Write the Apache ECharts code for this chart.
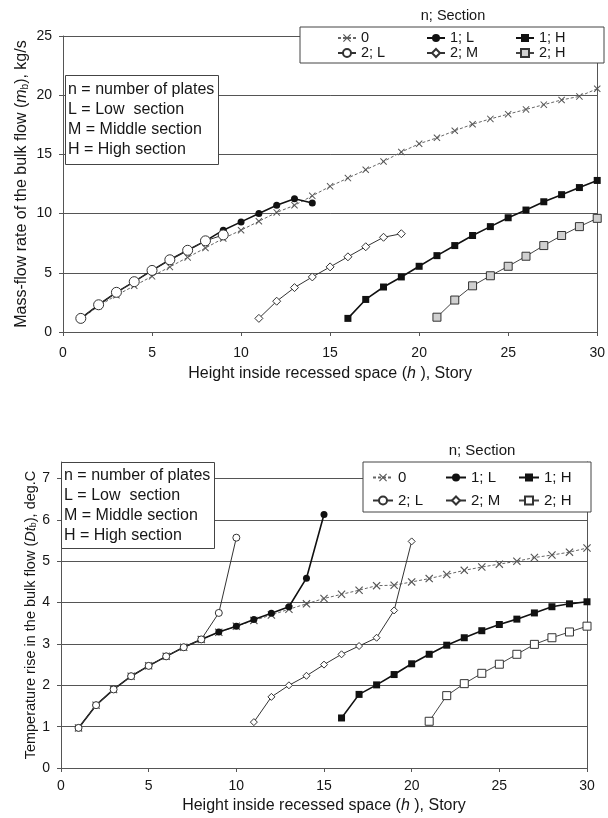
<!DOCTYPE html>
<html><head><meta charset="utf-8">
<script src="https://cdn.jsdelivr.net/npm/echarts@6/dist/echarts.min.js"></script>
<style>html,body{margin:0;padding:0;background:#fff}#c{width:608px;height:818px}</style>
</head><body><div id="c"></div>
<script>
const FONT = '"Liberation Sans", Arial, Helvetica, sans-serif';
const seriesLabels = ['0', '1; L', '1; H', '2; L', '2; M', '2; H'];
const xTicks = [0, 5, 10, 15, 20, 25, 30];
const topYTicks = [0, 5, 10, 15, 20, 25];
const botYTicks = [0, 1, 2, 3, 4, 5, 6, 7];
const infoText = 'n = number of plates\nL = Low  section\nM = Middle section\nH = High section';

// ---- Top chart: mass-flow rate (kg/s) ----
const topX_0  = [1,2,3,4,5,6,7,8,9,10,11,12,13,14,15,16,17,18,19,20,21,22,23,24,25,26,27,28,29,30];
const topY_0  = [1.1,2.2,3.1,3.9,4.7,5.5,6.3,7.1,7.9,8.6,9.35,10.1,10.7,11.5,12.3,13.0,13.7,14.4,15.2,15.9,16.4,17.0,17.55,18.0,18.4,18.8,19.2,19.6,19.9,20.55];
const topX_1L = [1,2,3,4,5,6,7,8,9,10,11,12,13,14];
const topY_1L = [1.15,2.3,3.35,4.25,5.2,6.1,6.9,7.7,8.6,9.3,10.0,10.7,11.25,10.9];
const topX_1H = [16,17,18,19,20,21,22,23,24,25,26,27,28,29,30];
const topY_1H = [1.15,2.75,3.8,4.65,5.55,6.45,7.3,8.15,8.9,9.65,10.3,11.0,11.6,12.2,12.8];
const topX_2L = [1,2,3,4,5,6,7,8,9];
const topY_2L = [1.15,2.3,3.35,4.25,5.2,6.1,6.9,7.7,8.2];
const topX_2M = [11,12,13,14,15,16,17,18,19];
const topY_2M = [1.15,2.6,3.75,4.65,5.5,6.35,7.2,8.0,8.3];
const topX_2H = [21,22,23,24,25,26,27,28,29,30];
const topY_2H = [1.25,2.7,3.9,4.75,5.55,6.4,7.3,8.15,8.9,9.6];

// ---- Bottom chart: temperature rise (deg.C) ----
const botX_0  = [1,2,3,4,5,6,7,8,9,10,11,12,13,14,15,16,17,18,19,20,21,22,23,24,25,26,27,28,29,30];
const botY_0  = [0.97,1.52,1.9,2.22,2.47,2.7,2.92,3.11,3.28,3.43,3.57,3.7,3.84,3.97,4.1,4.2,4.3,4.41,4.42,4.5,4.58,4.68,4.78,4.86,4.93,5.0,5.09,5.15,5.22,5.32];
const botX_1L = [1,2,3,4,5,6,7,8,9,10,11,12,13,14,15];
const botY_1L = [0.97,1.52,1.9,2.22,2.47,2.7,2.92,3.11,3.29,3.43,3.59,3.74,3.9,4.59,6.13];
const botX_1H = [16,17,18,19,20,21,22,23,24,25,26,27,28,29,30];
const botY_1H = [1.21,1.78,2.01,2.26,2.52,2.75,2.97,3.15,3.32,3.47,3.6,3.75,3.9,3.97,4.02];
const botX_2L = [1,2,3,4,5,6,7,8,9,10];
const botY_2L = [0.97,1.52,1.9,2.22,2.47,2.7,2.92,3.11,3.75,5.57];
const botX_2M = [11,12,13,14,15,16,17,18,19,20];
const botY_2M = [1.11,1.72,2.0,2.23,2.5,2.75,2.95,3.15,3.81,5.48];
const botX_2H = [21,22,23,24,25,26,27,28,29,30];
const botY_2H = [1.13,1.75,2.04,2.29,2.51,2.75,2.99,3.15,3.29,3.43];

const X_SYMBOL = 'path://M0,1L1,0L5,4L9,0L10,1L6,5L10,9L9,10L5,6L1,10L0,9L4,5Z';
const TXT = '#161616';

function pairs(xs, ys) { return xs.map((x, i) => [x, ys[i]]); }

function styles(big) {
  return [
    { symbol: X_SYMBOL, symbolSize: big ? 7 : 8, lineStyle: { color: '#666', width: 1, type: [3, 2] }, itemStyle: { color: '#555' } },
    { symbol: 'circle', symbolSize: 7, lineStyle: { color: '#111', width: 1.6 }, itemStyle: { color: '#111' } },
    { symbol: 'rect', symbolSize: 7, lineStyle: { color: '#111', width: 1.6 }, itemStyle: { color: '#111' } },
    { symbol: 'circle', symbolSize: big ? 10 : 7, lineStyle: { color: '#333', width: 1 }, itemStyle: { color: '#fff', borderColor: '#333', borderWidth: 1 } },
    { symbol: 'diamond', symbolSize: big ? 8 : 7, lineStyle: { color: '#333', width: 1 }, itemStyle: { color: '#fff', borderColor: '#333', borderWidth: 1 } },
    { symbol: 'rect', symbolSize: 8, lineStyle: { color: '#444', width: 1 }, itemStyle: { color: big ? '#d0d0d0' : '#fff', borderColor: '#333', borderWidth: 1 } }
  ];
}

const topSets = [[topX_0, topY_0], [topX_1L, topY_1L], [topX_1H, topY_1H], [topX_2L, topY_2L], [topX_2M, topY_2M], [topX_2H, topY_2H]];
const botSets = [[botX_0, botY_0], [botX_1L, botY_1L], [botX_1H, botY_1H], [botX_2L, botY_2L], [botX_2M, botY_2M], [botX_2H, botY_2H]];

const series = [];
const topSt = styles(true), botSt = styles(false);
topSets.forEach((s, i) => series.push(Object.assign({
  type: 'line', name: 'T|' + seriesLabels[i], xAxisIndex: 0, yAxisIndex: 0,
  data: pairs(s[0], s[1]), animation: false, emphasis: { disabled: true }
}, topSt[i])));
botSets.forEach((s, i) => series.push(Object.assign({
  type: 'line', name: 'B|' + seriesLabels[i], xAxisIndex: 1, yAxisIndex: 2,
  data: pairs(s[0], s[1]), animation: false, emphasis: { disabled: true }
}, botSt[i])));

const AX = '#555';
function xAxisCfg(grid, gap, margin) {
  return {
    type: 'value', gridIndex: grid, min: 0, max: 30, interval: 5,
    axisLine: { show: true, lineStyle: { color: AX, width: 1 } },
    axisTick: { show: true, length: 4, lineStyle: { color: AX } },
    axisLabel: { margin: margin, fontSize: 14, color: TXT, fontFamily: FONT, customValues: xTicks },
    splitLine: { show: false },
    name: 'Height inside recessed space ({i|h} ), Story',
    nameLocation: 'middle', nameGap: gap,
    nameTextStyle: { fontSize: 16, color: TXT, fontFamily: FONT,
      rich: { i: { fontSize: 16, fontStyle: 'italic', color: TXT, fontFamily: FONT } } }
  };
}
function rightAxis(grid, max) {
  return { type: 'value', gridIndex: grid, position: 'right', min: 0, max: max,
    axisLine: { show: true, lineStyle: { color: AX, width: 1 } },
    axisTick: { show: false }, axisLabel: { show: false }, splitLine: { show: false } };
}
function richName(fs) {
  return {
    i: { fontSize: fs, fontStyle: 'italic', color: TXT, fontFamily: FONT },
    s: { fontSize: Math.round(fs * 0.65), color: TXT, fontFamily: FONT, verticalAlign: 'bottom' }
  };
}

const option = {
  backgroundColor: '#fff',
  animation: false,
  textStyle: { fontFamily: FONT },
  grid: [
    { left: 63, right: 10, top: 36, height: 296 },
    { left: 61, right: 21, top: 462, height: 306 }
  ],
  xAxis: [xAxisCfg(0, 34, 14), xAxisCfg(1, 30, 11)],
  yAxis: [
    { type: 'value', gridIndex: 0, min: 0, max: 25, interval: 5,
      axisLine: { show: true, lineStyle: { color: AX, width: 1 } },
      axisTick: { show: true, length: 4, lineStyle: { color: AX } },
      axisLabel: { margin: 11, fontSize: 14, color: TXT, fontFamily: FONT, customValues: topYTicks },
      splitLine: { show: true, lineStyle: { color: '#555', width: 1 } },
      name: 'Mass-flow rate of the bulk flow ({i|m}{s|b}), kg/s',
      nameLocation: 'middle', nameGap: 33, nameMoveOverlap: false,
      nameTextStyle: { fontSize: 16, color: TXT, fontFamily: FONT, rich: richName(16) } },
    rightAxis(0, 25),
    { type: 'value', gridIndex: 1, min: 0, max: 7.4, interval: 1,
      axisLine: { show: true, lineStyle: { color: AX, width: 1 } },
      axisTick: { show: true, length: 4, lineStyle: { color: AX }, customValues: botYTicks },
      axisLabel: { margin: 11, fontSize: 14, color: TXT, fontFamily: FONT, customValues: botYTicks },
      splitLine: { show: true, lineStyle: { color: ['#555','#555','#555','#555','#555','#555','#555','#555','rgba(0,0,0,0)'], width: 1 } },
      name: 'Temperature rise in the bulk flow ({i|Dt}{s|b}), deg.C',
      nameLocation: 'middle', nameGap: 23, nameMoveOverlap: false,
      nameTextStyle: { fontSize: 14.5, color: TXT, fontFamily: FONT, rich: richName(14.5) } },
    rightAxis(1, 7.4)
  ],
  legend: [
    { left: 300, top: 27, width: 270, orient: 'horizontal',
      data: seriesLabels.map(n => 'T|' + n),
      formatter: n => n.split('|')[1],
      itemWidth: 18, itemHeight: 10, itemGap: 0,
      padding: [3.5, 0, 2.5, 37],
      textStyle: { fontSize: 14.5, color: TXT, width: 65, lineHeight: 15, fontFamily: FONT },
      borderColor: '#444', borderWidth: 1, backgroundColor: '#fff', selectedMode: false },
    { left: 363, top: 462, width: 220, orient: 'horizontal',
      data: seriesLabels.map(n => 'B|' + n),
      formatter: n => n.split('|')[1],
      itemWidth: 20, itemHeight: 10, itemGap: 0,
      padding: [4, 0, 0, 9],
      textStyle: { fontSize: 15, color: TXT, width: 47, lineHeight: 23, fontFamily: FONT },
      borderColor: '#444', borderWidth: 1, backgroundColor: '#fff', selectedMode: false }
  ],
  title: [
    { text: 'n; Section', left: 448, top: 3, textAlign: 'center',
      textStyle: { fontSize: 14.5, fontWeight: 'normal', color: TXT, fontFamily: FONT } },
    { text: infoText, left: 65, top: 75, padding: [5, 4, 5, 3],
      borderColor: '#444', borderWidth: 1, backgroundColor: '#fff',
      textStyle: { fontSize: 16, lineHeight: 20, fontWeight: 'normal', color: TXT, fontFamily: FONT } },
    { text: 'n; Section', left: 477, top: 438, textAlign: 'center',
      textStyle: { fontSize: 15, fontWeight: 'normal', color: TXT, fontFamily: FONT } },
    { text: infoText, left: 61, top: 462, padding: [4, 4, 3, 3],
      borderColor: '#444', borderWidth: 1, backgroundColor: '#fff',
      textStyle: { fontSize: 16, lineHeight: 20, fontWeight: 'normal', color: TXT, fontFamily: FONT } }
  ],
  series: series
};

const chart = echarts.init(document.getElementById('c'), null, { renderer: 'canvas' });
chart.setOption(option);
</script>
</body></html>
